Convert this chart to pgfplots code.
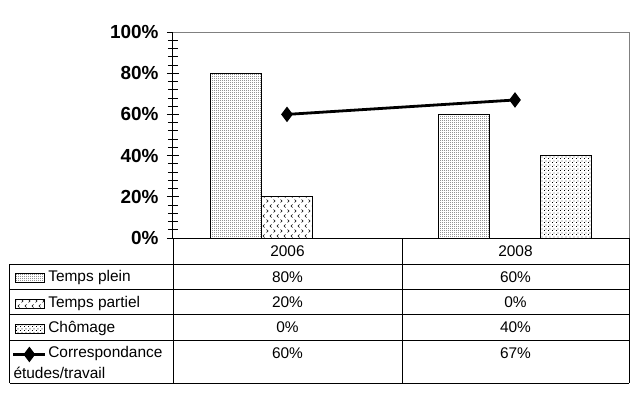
\documentclass[border=0pt]{standalone}
\usepackage{fontspec}
\setmainfont{Liberation Sans}
\usepackage{pgfplots}
\pgfplotsset{compat=1.18}
\usetikzlibrary{patterns}

\pgfdeclarepatternformonly{densedots}{\pgfpointorigin}{\pgfpoint{2bp}{2bp}}{\pgfpoint{2bp}{2bp}}{%
  \pgfpathrectangle{\pgfpointorigin}{\pgfpoint{1bp}{1bp}}\pgfusepath{fill}}
\pgfdeclarepatternformonly{partiel}{\pgfpoint{-0.5bp}{-0.5bp}}{\pgfpoint{7.5bp}{10.5bp}}{\pgfpoint{7bp}{10bp}}{%
  \pgfsetlinewidth{0.55bp}%
  \pgfpathmoveto{\pgfpoint{0.5bp}{9.5bp}}\pgfpathlineto{\pgfpoint{2.1bp}{8bp}}\pgfpathlineto{\pgfpoint{0.5bp}{6.5bp}}%
  \pgfpathmoveto{\pgfpoint{5.6bp}{4.5bp}}\pgfpathlineto{\pgfpoint{4bp}{3bp}}\pgfpathlineto{\pgfpoint{5.6bp}{1.5bp}}%
  \pgfusepath{stroke}}
\pgfdeclarepatternformonly{chomdots}{\pgfpointorigin}{\pgfpoint{4bp}{4bp}}{\pgfpoint{4bp}{4bp}}{%
  \pgfpathrectangle{\pgfpointorigin}{\pgfpoint{1bp}{1bp}}%
  \pgfpathrectangle{\pgfpoint{2bp}{2bp}}{\pgfpoint{1bp}{1bp}}\pgfusepath{fill}}

\pgfplotsset{
  rectlegend/.style={legend image code/.code={\draw[##1] (0bp,-4.5bp) rectangle (29bp,4.5bp);}},
  linelegend/.style={legend image code/.code={\draw[mark repeat=2, mark phase=2, ##1] plot coordinates {(-2bp,0bp) (14bp,0bp) (30bp,0bp)};}},
}

\begin{document}
\begin{tikzpicture}
\useasboundingbox (-173bp,-161bp) rectangle (466bp,238bp);
\begin{axis}[
  at={(0bp,0bp)}, anchor=south west,
  scale only axis, width=456bp, height=206bp,
  xmin=-0.5, xmax=1.5, ymin=0, ymax=100,
  xtick=\empty,
  ytick={0,20,40,60,80,100},
  yticklabels={0\%,20\%,40\%,60\%,80\%,100\%},
  minor y tick num=4,
  ytick pos=left,
  tick align=center,
  major tick length=12bp, minor tick length=10bp,
  every tick/.style={black, line width=0.8bp},
  yticklabel style={font=\fontsize{19}{21}\selectfont\bfseries, xshift=-5bp},
  axis line style={draw=none},
  clip=false,
  legend cell align=left,
  legend style={at={(axis description cs:-0.3531,-0.1624)}, anchor=north west,
    draw=none, fill=none, inner sep=0pt, outer sep=0pt,
    row sep=11.33bp, column sep=1.5bp,
    font=\fontsize{15.5}{18}\selectfont,
    nodes={inner sep=0pt, text height=10.5bp, text depth=3.5bp}},
]
\addplot[ybar, bar width=51bp, bar shift=-51bp, draw=black, line width=1bp, pattern=densedots, rectlegend]
  coordinates {(0,80) (1,60)};
\addplot[ybar, bar width=51bp, bar shift=0bp, draw=black, line width=1bp, pattern=partiel, rectlegend]
  coordinates {(0,20) (1,0)};
\addplot[ybar, bar width=51bp, bar shift=51bp, draw=black, line width=1bp, pattern=chomdots, rectlegend]
  coordinates {(0,0) (1,40)};
\addplot[black, line width=2.8bp, mark=diamond*, mark size=5.5bp, mark options={solid}, linelegend]
  coordinates {(0,60) (1,67)};
\legend{Temps plein, Temps partiel, Chômage, Correspondance}
\draw[gray, line width=1bp] (rel axis cs:0,1) -- (rel axis cs:1,1) -- (rel axis cs:1,0);
\draw[black, line width=1bp] (rel axis cs:0,1) -- (rel axis cs:0,0) -- (rel axis cs:1,0);
\end{axis}
\begin{scope}[x=1bp, y=1bp, line width=1bp]
  \draw (0,0) -- (0,-145);
  \draw (229,0) -- (229,-145);
  \draw (456,0) -- (456,-145);
  \draw (-163,-26) -- (-163,-145);
  \foreach \yy in {26,51.33,76.67,102,145} \draw (-163,-\yy) -- (456,-\yy);
  \begin{scope}[every node/.style={font=\fontsize{15.5}{18}\selectfont, inner sep=0pt, anchor=base}]
    \node at (114.5,-18.5) {2006};
    \node at (342.5,-18.5) {2008};
    \node at (114.5,-44.2) {80\%};
    \node at (342.5,-44.2) {60\%};
    \node at (114.5,-69.5) {20\%};
    \node at (342.5,-69.5) {0\%};
    \node at (114.5,-94.9) {0\%};
    \node at (342.5,-94.9) {40\%};
    \node at (114.5,-120.5) {60\%};
    \node at (342.5,-120.5) {67\%};
    \node[anchor=base west] at (-160,-140.5) {études/travail};
  \end{scope}
\end{scope}
\end{tikzpicture}
\end{document}
